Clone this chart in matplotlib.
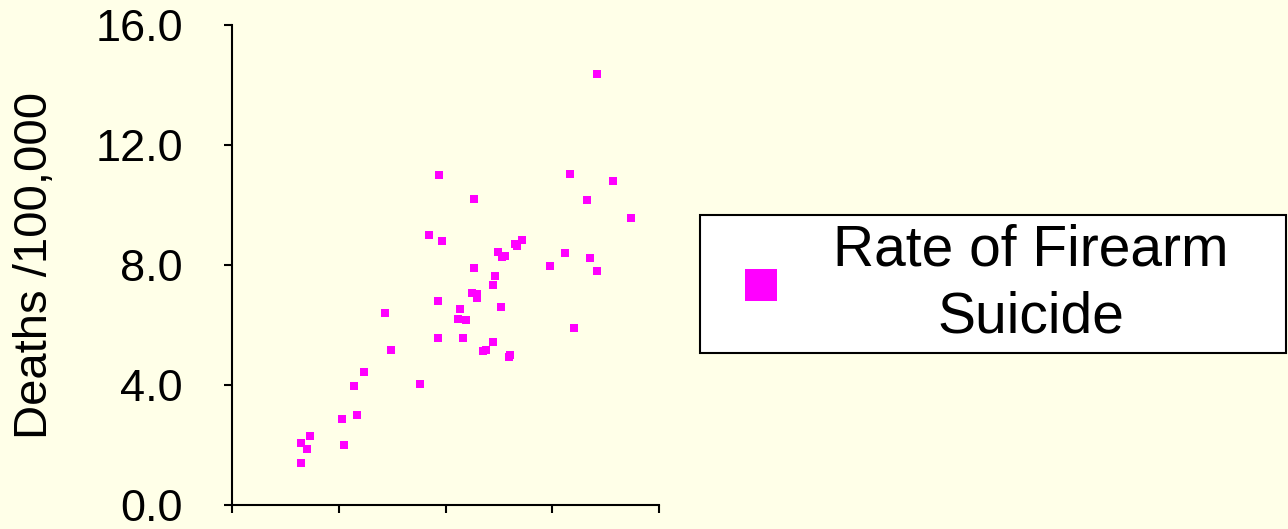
import matplotlib
matplotlib.use("Agg")
import matplotlib.pyplot as plt

# % of households (x, unlabeled in the source) vs. firearm suicide rate
gun_ownership = [
    68.3, 38.7, 63.4, 71.4, 45.3, 66.6, 74.8, 36.8, 39.4, 54.4,
    53.0, 53.4, 49.8, 51.1, 62.3, 59.5, 67.0, 68.3, 45.4, 49.3,
    48.8, 44.9, 45.9, 45.9, 38.6, 50.4, 42.6, 42.3, 43.8, 28.6,
    64.1, 38.6, 43.3, 48.9, 47.0, 47.6, 29.8, 51.8, 52.1, 24.6,
    22.8, 35.2, 23.4, 20.5, 14.6, 12.8, 14.0, 20.9, 12.9, 50.6,
]
suicide_rate = [
    14.37, 11.01, 11.02, 10.80, 10.20, 10.17, 9.58, 9.01, 8.81, 8.84,
    8.70, 8.64, 8.45, 8.31, 8.41, 7.97, 8.23, 7.79, 7.91, 7.65,
    7.35, 7.07, 7.05, 6.90, 6.79, 6.60, 6.53, 6.21, 6.16, 6.39,
    5.91, 5.56, 5.56, 5.42, 5.13, 5.17, 5.15, 4.94, 4.99, 4.44,
    3.96, 4.04, 3.01, 2.87, 2.30, 2.07, 1.87, 2.00, 1.41, 8.27,
]
y_ticks = [0, 4, 8, 12, 16]
x_ticks = [0, 20, 40, 60, 80]

bg = "#FFFFE8"
magenta = "#FF00FF"

plt.rcParams["font.family"] = ["Liberation Sans", "DejaVu Sans"]

fig = plt.figure(figsize=(12.88, 5.29), dpi=100, facecolor=bg)
ax = fig.add_axes([0.1804, 0.0454, 0.3312, 0.9073])
ax.set_facecolor(bg)

ax.plot(gun_ownership, suicide_rate, linestyle="none", marker="s",
        markersize=6.2, color=magenta, markeredgewidth=0,
        label="Rate of Firearm\nSuicide")

ax.set_xlim(0, 80)
ax.set_ylim(0, 16)
ax.set_xticks(x_ticks)
ax.set_xticklabels([])
ax.set_yticks(y_ticks)
ax.set_yticklabels([f"{v:.1f}" for v in y_ticks])

for side in ("top", "right"):
    ax.spines[side].set_visible(False)
for side in ("left", "bottom"):
    ax.spines[side].set_linewidth(1.5)
    ax.spines[side].set_color("black")
ax.tick_params(axis="both", direction="out", length=5.5, width=1.5,
               colors="black")
ax.tick_params(axis="y", labelsize=32.5, pad=30)
ax.set_ylabel("Deaths /100,000", fontsize=34, labelpad=28)

leg = ax.legend(loc="center left", mode="expand",
                bbox_to_anchor=(700 / 1288, 1 - 284 / 529, 586 / 1288, 0),
                bbox_transform=fig.transFigure,
                fontsize=41, markerscale=3.7, numpoints=1,
                frameon=True, fancybox=False, framealpha=1,
                borderpad=0.15, handlelength=1.85, handletextpad=0.33,
                borderaxespad=0)
leg.get_frame().set_edgecolor("black")
leg.get_frame().set_linewidth(1.5)
leg.get_frame().set_facecolor("white")
for t in leg.get_texts():
    t.set_multialignment("center")
    t.set_linespacing(1.32)

fig.savefig("out.png", dpi=100, facecolor=bg)
